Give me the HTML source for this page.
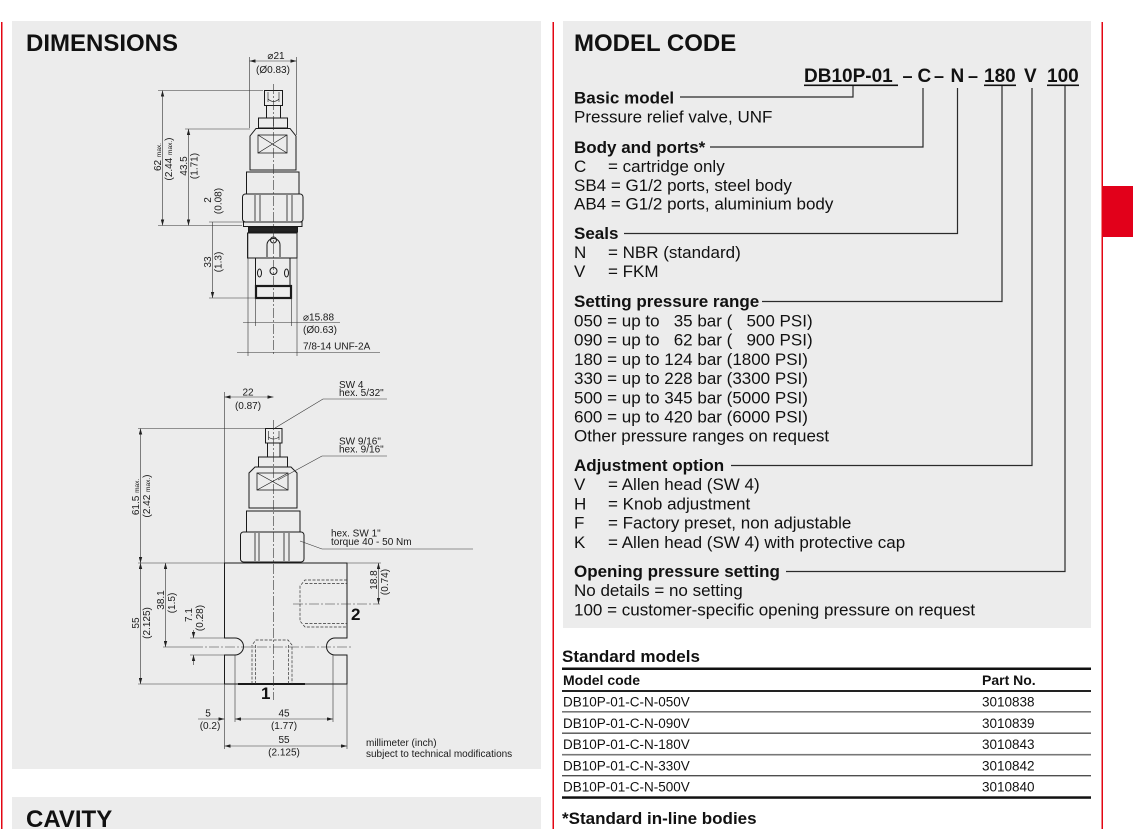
<!DOCTYPE html>
<html><head><meta charset="utf-8">
<style>
html,body{margin:0;padding:0;background:#fff;}
svg{display:block;}
text{font-family:"Liberation Sans","DejaVu Sans",Arial,sans-serif;fill:#111;white-space:pre;}
.b{font-weight:bold;}
.t{font-size:17px;}
.d{font-size:10px;fill:#1a1a1a;}
.r{font-size:13.5px;}
</style></head><body>
<svg width="1133" height="829" viewBox="0 0 1133 829" xmlns="http://www.w3.org/2000/svg" xml:space="preserve">
<defs>
<marker id="ar" viewBox="0 0 7 4" refX="7" refY="2" markerWidth="6" markerHeight="3.5" markerUnits="userSpaceOnUse" orient="auto-start-reverse"><path d="M0,0 L7,2 L0,4 z" fill="#222"/></marker>
</defs>
<rect x="0" y="0" width="1133" height="829" fill="#fff"/>
<rect x="12" y="21" width="529" height="748" fill="#ececec"/>
<rect x="12" y="797" width="529" height="40" fill="#ececec"/>
<rect x="563" y="21" width="528" height="607" fill="#ececec"/>
<rect x="1" y="22" width="1.5" height="807" fill="#e30613"/>
<rect x="552.5" y="22" width="1.5" height="807" fill="#e30613"/>
<rect x="1101.5" y="22" width="1.5" height="807" fill="#e30613"/>
<rect x="1103" y="186" width="30" height="51" fill="#e2001a"/>

<text x="26" y="51" class="b" font-size="24">DIMENSIONS</text>
<text x="574" y="51" class="b" font-size="24">MODEL CODE</text>
<text x="26" y="827" class="b" font-size="24">CAVITY</text>

<!-- ============ TOP CARTRIDGE DRAWING ============ -->
<g fill="none" stroke="#1a1a1a" stroke-width="1">
<rect x="264.5" y="90.5" width="18" height="15"/>
<path d="M268,92 V102 M279,92 V102 M268,99 Q273.5,104 279,99" stroke-width="0.6"/>
<rect x="266.5" y="105.5" width="14" height="12.5"/>
<rect x="258.5" y="118" width="29" height="10"/>
<path d="M273.5,118 V128" stroke-width="0.6"/>
<path d="M250,170 V136 L256,128.5 H290 L296,136 V170 Z"/>
<rect x="258" y="135" width="29" height="18" stroke-width="0.8"/>
<path d="M258,135 L287,153 M287,135 L258,153" stroke-width="0.7"/>
<rect x="246.5" y="172" width="52.5" height="22"/>
<rect x="242.5" y="194" width="60.5" height="28" rx="3"/>
<path d="M255,195 V221 M260,195 V221 M287,195 V221 M292,195 V221" stroke-width="0.8"/>
<rect x="243.5" y="222" width="58.5" height="4.5"/>
<rect x="248.5" y="227" width="49" height="5" fill="#222"/>
<rect x="247.5" y="233" width="49.5" height="25"/>
<path d="M267,257 V245 A6.5,6.5 0 0 1 280,245 V257"/>
<circle cx="273.5" cy="240" r="3"/>
<rect x="255.5" y="258" width="34.5" height="28"/>
<ellipse cx="259.5" cy="273" rx="2" ry="4"/>
<ellipse cx="286.5" cy="273" rx="2" ry="4"/>
<circle cx="273.5" cy="271" r="3.5"/>
<rect x="256" y="286" width="35" height="12" stroke-width="2.2"/>
</g>
<g fill="none" stroke="#333" stroke-width="0.6">
<line x1="273.5" y1="84" x2="273.5" y2="356" stroke-dasharray="10,2,2,2"/>
<line x1="249.5" y1="57" x2="249.5" y2="128"/>
<line x1="296.5" y1="57" x2="296.5" y2="135"/>
<line x1="249.5" y1="61" x2="296.5" y2="61" marker-start="url(#ar)" marker-end="url(#ar)"/>
<line x1="158" y1="90.5" x2="263" y2="90.5"/>
<line x1="158" y1="225.5" x2="242" y2="225.5"/>
<line x1="162.5" y1="90.5" x2="162.5" y2="225.5" marker-start="url(#ar)" marker-end="url(#ar)"/>
<line x1="185" y1="129" x2="250" y2="129"/>
<line x1="188.5" y1="129" x2="188.5" y2="225.5" marker-start="url(#ar)" marker-end="url(#ar)"/>
<line x1="209" y1="222" x2="243" y2="222"/>
<line x1="209" y1="298" x2="255" y2="298"/>
<line x1="212.5" y1="222" x2="212.5" y2="298" marker-end="url(#ar)"/>
<line x1="248" y1="233" x2="248" y2="356"/>
<line x1="297" y1="233" x2="297" y2="356"/>
<line x1="255.5" y1="298" x2="255.5" y2="326"/>
<line x1="291.5" y1="298" x2="291.5" y2="326"/>
<line x1="243" y1="322.5" x2="340" y2="322.5"/>
<line x1="237" y1="352.5" x2="380" y2="352.5"/>
</g>
<text x="276" y="59" class="d" text-anchor="middle">⌀21</text>
<text x="273" y="73" class="d" text-anchor="middle">(Ø0.83)</text>
<text transform="translate(161,157) rotate(-90)" class="d" text-anchor="middle">62 <tspan font-size="6.5">max.</tspan></text>
<text transform="translate(172,159) rotate(-90)" class="d" text-anchor="middle">(2.44 <tspan font-size="6.5">max.</tspan>)</text>
<text transform="translate(187,166) rotate(-90)" class="d" text-anchor="middle">43.5</text>
<text transform="translate(197.5,166) rotate(-90)" class="d" text-anchor="middle">(1.71)</text>
<text transform="translate(211,200) rotate(-90)" class="d" text-anchor="middle">2</text>
<text transform="translate(221.5,201) rotate(-90)" class="d" text-anchor="middle">(0.08)</text>
<text transform="translate(211,262) rotate(-90)" class="d" text-anchor="middle">33</text>
<text transform="translate(221.5,262) rotate(-90)" class="d" text-anchor="middle">(1.3)</text>
<text x="303" y="320.5" class="d">⌀15.88</text>
<text x="303" y="333" class="d">(Ø0.63)</text>
<text x="303" y="349.5" class="d">7/8-14 UNF-2A</text>

<!-- ============ LOWER DRAWING ============ -->
<g fill="none" stroke="#1a1a1a" stroke-width="1">
<rect x="265.5" y="428.5" width="16.5" height="14.5"/>
<path d="M268.5,431 V440 M279,431 V440 M268.5,437 Q273.5,441 279,437" stroke-width="0.6"/>
<rect x="267.5" y="443" width="12.5" height="14"/>
<rect x="258.5" y="457" width="29" height="10"/>
<path d="M249,508 V473 L255,467 H291 L297,473 V508 Z"/>
<rect x="257" y="473" width="31" height="17" stroke-width="0.8"/>
<path d="M257,473 L288,490 M288,473 L257,490" stroke-width="0.7"/>
<rect x="246.5" y="511" width="53.5" height="21"/>
<rect x="240.5" y="532" width="63.5" height="30" rx="3"/>
<path d="M255,533 V561 M259,533 V561 M284,533 V561 M289,533 V561" stroke-width="0.8"/>
<path d="M224.5,563 H347 V638 H335 A8.5,8.5 0 0 0 335,655 H347 V684 H224.5 V655 H235 A8.5,8.5 0 0 0 235,638 H224.5 Z"/>
<path d="M238,684 H305" stroke-width="2"/>
</g>
<g fill="none" stroke="#333" stroke-width="0.7" stroke-dasharray="3,1.5">
<path d="M252,684 V645 L256,640 H288 L292,645 V684"/>
<path d="M255.5,684 V645 M288.5,684 V645"/>
<path d="M347,580 H305 L300,586 V621 L305,627 H347"/>
<path d="M305,583.5 H347 M305,623.5 H347"/>
</g>
<g fill="none" stroke="#333" stroke-width="0.6">
<line x1="273.5" y1="420" x2="273.5" y2="700" stroke-dasharray="10,2,2,2"/>
<line x1="293" y1="604" x2="380" y2="604" stroke-dasharray="10,2,2,2"/>
<line x1="193" y1="647" x2="352" y2="647" stroke-dasharray="10,2,2,2"/>
<line x1="224.5" y1="392" x2="224.5" y2="563"/>
<line x1="224.5" y1="397" x2="273.5" y2="397" marker-start="url(#ar)" marker-end="url(#ar)"/>
<line x1="138" y1="428.5" x2="265" y2="428.5"/>
<line x1="138" y1="563" x2="224" y2="563"/>
<line x1="140.5" y1="428.5" x2="140.5" y2="563" marker-start="url(#ar)" marker-end="url(#ar)"/>
<line x1="140.5" y1="563" x2="140.5" y2="684" marker-start="url(#ar)" marker-end="url(#ar)"/>
<line x1="138" y1="684" x2="224" y2="684"/>
<line x1="165.5" y1="563" x2="165.5" y2="647" marker-start="url(#ar)" marker-end="url(#ar)"/>
<line x1="163" y1="647" x2="193" y2="647"/>
<line x1="190" y1="638" x2="224" y2="638"/>
<line x1="190" y1="655" x2="224" y2="655"/>
<line x1="193.5" y1="630" x2="193.5" y2="638" marker-end="url(#ar)"/>
<line x1="193.5" y1="665" x2="193.5" y2="655" marker-end="url(#ar)"/>
<line x1="347" y1="563" x2="381" y2="563"/>
<line x1="378.5" y1="563" x2="378.5" y2="604" marker-start="url(#ar)" marker-end="url(#ar)"/>
<line x1="224.5" y1="684" x2="224.5" y2="749"/>
<line x1="347" y1="684" x2="347" y2="749"/>
<line x1="235" y1="655" x2="235" y2="722"/>
<line x1="333" y1="655" x2="333" y2="722"/>
<line x1="198" y1="719" x2="224.5" y2="719" marker-end="url(#ar)"/>
<line x1="235" y1="719" x2="333" y2="719" marker-start="url(#ar)" marker-end="url(#ar)"/>
<line x1="224.5" y1="746" x2="347" y2="746" marker-start="url(#ar)" marker-end="url(#ar)"/>
<polyline points="387,399 323,399 275,428"/>
<polyline points="387,456 322,456 278,480"/>
<polyline points="473,549 322,549 300,541"/>
</g>
<text x="248" y="395.5" class="d" text-anchor="middle">22</text>
<text x="248" y="409" class="d" text-anchor="middle">(0.87)</text>
<text x="339" y="388" class="d">SW 4</text>
<text x="339" y="396" class="d">hex. 5/32"</text>
<text x="339" y="444.5" class="d">SW 9/16"</text>
<text x="339" y="452.5" class="d">hex. 9/16"</text>
<text x="331" y="536.5" class="d">hex. SW 1"</text>
<text x="331" y="545" class="d">torque 40 - 50 Nm</text>
<text transform="translate(139,497) rotate(-90)" class="d" text-anchor="middle">61.5 <tspan font-size="6.5">max.</tspan></text>
<text transform="translate(150,496) rotate(-90)" class="d" text-anchor="middle">(2.42 <tspan font-size="6.5">max.</tspan>)</text>
<text transform="translate(139,623) rotate(-90)" class="d" text-anchor="middle">55</text>
<text transform="translate(150,623) rotate(-90)" class="d" text-anchor="middle">(2.125)</text>
<text transform="translate(164,600) rotate(-90)" class="d" text-anchor="middle">38.1</text>
<text transform="translate(175,603) rotate(-90)" class="d" text-anchor="middle">(1.5)</text>
<text transform="translate(192,615) rotate(-90)" class="d" text-anchor="middle">7.1</text>
<text transform="translate(203,618) rotate(-90)" class="d" text-anchor="middle">(0.28)</text>
<text transform="translate(377,580) rotate(-90)" class="d" text-anchor="middle">18.8</text>
<text transform="translate(388,582) rotate(-90)" class="d" text-anchor="middle">(0.74)</text>
<text x="351" y="620" class="b" font-size="17">2</text>
<text x="261" y="699" class="b" font-size="17">1</text>
<text x="208" y="716.5" class="d" text-anchor="middle">5</text>
<text x="210" y="729" class="d" text-anchor="middle">(0.2)</text>
<text x="284" y="716.5" class="d" text-anchor="middle">45</text>
<text x="284" y="729" class="d" text-anchor="middle">(1.77)</text>
<text x="284" y="743" class="d" text-anchor="middle">55</text>
<text x="284" y="755.5" class="d" text-anchor="middle">(2.125)</text>
<text x="366" y="746" class="d">millimeter (inch)</text>
<text x="366" y="757" class="d">subject to technical modifications</text>

<!-- ============ MODEL CODE ============ -->
<text x="804" y="82" class="b" font-size="19">DB10P-01</text>
<text x="902.5" y="82" class="b" font-size="18">–</text>
<text x="917.5" y="82" class="b" font-size="19">C</text>
<text x="934" y="82" class="b" font-size="18">–</text>
<text x="950.5" y="82" class="b" font-size="19">N</text>
<text x="968" y="82" class="b" font-size="18">–</text>
<text x="984" y="82" class="b" font-size="19">180</text>
<text x="1024" y="82" class="b" font-size="19">V</text>
<text x="1047" y="82" class="b" font-size="19">100</text>
<g fill="#111">
<rect x="804" y="84.5" width="94" height="1.6"/>
<rect x="984" y="84.5" width="32" height="1.6"/>
<rect x="1047" y="84.5" width="32" height="1.6"/>
</g>
<g fill="none" stroke="#2a2a2a" stroke-width="1.2">
<polyline points="680,97 853,97 853,86"/>
<polyline points="710,147 923,147 923,88"/>
<polyline points="624,233.5 957.5,233.5 957.5,88"/>
<polyline points="762,301.5 1002,301.5 1002,86"/>
<polyline points="731,465.5 1032,465.5 1032,88"/>
<polyline points="786,571.5 1065,571.5 1065,86"/>
</g>

<text x="574" y="103.5" class="b t">Basic model</text>
<text x="574" y="122.7" class="t">Pressure relief valve, UNF</text>

<text x="574" y="153" class="b t">Body and ports*</text>
<text x="574" y="172" class="t">C</text><text x="608" y="172" class="t">= cartridge only</text>
<text x="574" y="190.8" class="t">SB4 = G1/2 ports, steel body</text>
<text x="574" y="209.6" class="t">AB4 = G1/2 ports, aluminium body</text>

<text x="574" y="239" class="b t">Seals</text>
<text x="574" y="258" class="t">N</text><text x="608" y="258" class="t">= NBR (standard)</text>
<text x="574" y="277" class="t">V</text><text x="608" y="277" class="t">= FKM</text>

<text x="574" y="307" class="b t">Setting pressure range</text>
<text x="574" y="326.5" class="t">050 = up to   35 bar (   500 PSI)</text>
<text x="574" y="345.7" class="t">090 = up to   62 bar (   900 PSI)</text>
<text x="574" y="364.9" class="t">180 = up to 124 bar (1800 PSI)</text>
<text x="574" y="384.1" class="t">330 = up to 228 bar (3300 PSI)</text>
<text x="574" y="403.3" class="t">500 = up to 345 bar (5000 PSI)</text>
<text x="574" y="422.5" class="t">600 = up to 420 bar (6000 PSI)</text>
<text x="574" y="441.7" class="t">Other pressure ranges on request</text>

<text x="574" y="471" class="b t">Adjustment option</text>
<text x="574" y="490.2" class="t">V</text><text x="608" y="490.2" class="t">= Allen head (SW 4)</text>
<text x="574" y="509.4" class="t">H</text><text x="608" y="509.4" class="t">= Knob adjustment</text>
<text x="574" y="528.6" class="t">F</text><text x="608" y="528.6" class="t">= Factory preset, non adjustable</text>
<text x="574" y="547.8" class="t">K</text><text x="608" y="547.8" class="t">= Allen head (SW 4) with protective cap</text>

<text x="574" y="577" class="b t">Opening pressure setting</text>
<text x="574" y="596.2" class="t">No details = no setting</text>
<text x="574" y="615.4" class="t">100 = customer-specific opening pressure on request</text>

<!-- ============ TABLE ============ -->
<text x="562" y="662" class="b t">Standard models</text>
<rect x="562" y="667.5" width="529" height="2.5" fill="#111"/>
<text x="563" y="685" class="b" font-size="14">Model code</text>
<text x="982" y="685" class="b" font-size="14">Part No.</text>
<rect x="562" y="690" width="529" height="2" fill="#222"/>
<text x="563" y="706.5" class="r">DB10P-01-C-N-050V</text><text x="982" y="706.5" class="r">3010838</text>
<rect x="562" y="711" width="529" height="1.6" fill="#777"/>
<text x="563" y="727.8" class="r">DB10P-01-C-N-090V</text><text x="982" y="727.8" class="r">3010839</text>
<rect x="562" y="732.6" width="529" height="1.1" fill="#222"/>
<text x="563" y="749.1" class="r">DB10P-01-C-N-180V</text><text x="982" y="749.1" class="r">3010843</text>
<rect x="562" y="753.9" width="529" height="1.6" fill="#777"/>
<text x="563" y="770.4" class="r">DB10P-01-C-N-330V</text><text x="982" y="770.4" class="r">3010842</text>
<rect x="562" y="775.2" width="529" height="1.1" fill="#222"/>
<text x="563" y="791.7" class="r">DB10P-01-C-N-500V</text><text x="982" y="791.7" class="r">3010840</text>
<rect x="562" y="796.3" width="529" height="2.5" fill="#111"/>
<text x="562" y="824" class="b t">*Standard in-line bodies</text>
</svg>
</body></html>
